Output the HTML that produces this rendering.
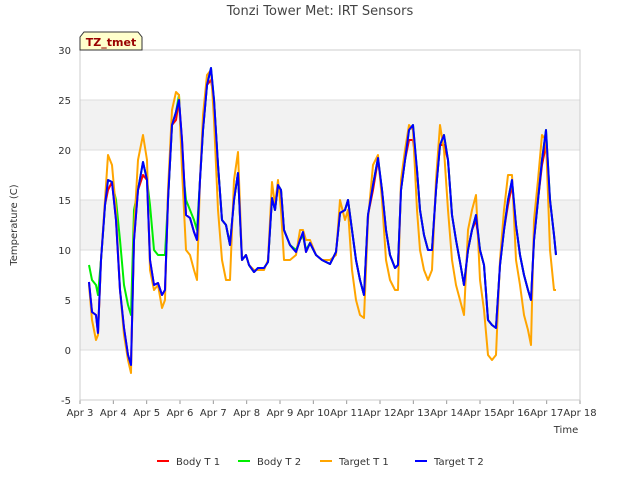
<!DOCTYPE html>
<html><head><meta charset="utf-8"><style>
body{margin:0;background:#fff;font-family:"Liberation Sans","DejaVu Sans",sans-serif}
text{font-family:"DejaVu Sans","Liberation Sans",sans-serif}
</style></head><body>
<svg id="c" width="640" height="480" viewBox="0 0 640 480" xmlns="http://www.w3.org/2000/svg">
<text x="320" y="15" text-anchor="middle" font-size="13" fill="#444">Tonzi Tower Met: IRT Sensors</text>
<g id="grid"></g><g id="axes"></g><g id="series"></g>
<g>
<path d="M80,50 L80,37 L84,32 L138,32 L142,37 L142,50 Z" fill="#ffffcc" stroke="#333" stroke-width="1"/>
<text x="111" y="46" text-anchor="middle" font-size="11" font-weight="bold" fill="#990000">TZ_tmet</text></g>
<text transform="translate(17,225) rotate(-90)" text-anchor="middle" font-size="10" fill="#333">Temperature (C)</text>
<text x="566" y="433" text-anchor="middle" font-size="10" fill="#333">Time</text>
<g id="legend"></g>
</svg>
<script>
const times=[0.27,0.36,0.48,0.54,0.63,0.75,0.84,0.96,1.08,1.2,1.32,1.44,1.53,1.62,1.74,1.89,2.01,2.1,2.22,2.34,2.46,2.55,2.64,2.76,2.88,2.97,3.06,3.18,3.3,3.42,3.51,3.6,3.69,3.81,3.93,4.02,4.14,4.26,4.38,4.5,4.62,4.74,4.86,4.98,5.07,5.22,5.34,5.52,5.64,5.76,5.85,5.94,6.03,6.12,6.3,6.48,6.6,6.69,6.78,6.9,7.08,7.26,7.5,7.68,7.8,7.95,8.04,8.16,8.28,8.4,8.52,8.64,8.79,8.94,9.06,9.18,9.3,9.45,9.54,9.63,9.75,9.87,9.99,10.11,10.2,10.32,10.44,10.56,10.68,10.8,10.92,11.04,11.16,11.28,11.4,11.52,11.64,11.76,11.88,12.0,12.12,12.24,12.36,12.48,12.6,12.72,12.84,12.96,13.08,13.2,13.32,13.44,13.53,13.62,13.74,13.86,13.98,14.1,14.22,14.28];
const targetT2=[6.8,3.8,3.5,1.7,9,14.5,17,16.8,13,6,2.2,-0.5,-1.5,11,16,18.8,17,9,6.5,6.7,5.5,6,15,22.5,23.8,25,21,13.5,13.2,11.8,11,17,22,26.5,28.2,25,18.5,13,12.5,10.5,15,17.7,9,9.5,8.5,7.8,8.2,8.2,8.8,15.2,14,16.5,16,12,10.5,9.8,11,11.8,9.8,10.7,9.5,9,8.6,9.8,13.7,14,15,12,9,7,5.5,13.5,16.5,19.2,16,12,9.5,8.2,8.5,16,19,22,22.5,18,14,11.5,10,10,16,20.5,21.5,19,13.5,11,8.8,6.5,10,12,13.5,10,8.5,3,2.5,2.2,8.5,12,15,17,12.5,9.5,7.5,6,5,11,15,19,22,15,11.5,9.5];
const targetT1=[6.5,3,1,1.5,9,15,19.5,18.5,14,6,1.5,-1,-2.3,12,19,21.5,19,8,6,6.5,4.2,5,16,24,25.8,25.5,18,10,9.5,8,7,17,23.5,27.5,28,23,14,9,7,7,17,19.8,9,9.5,8.5,8,8,8,9,16.8,14.5,17,14,9,9,9.5,12,12,11,11,9.5,9,9,9.5,15,13,14,8,5,3.5,3.2,13,18.5,19.5,15,9,7,6,6,17,20,22.5,22,14,10,8,7,8,17,22.5,20,14,9,6.5,5,3.5,12,14,15.5,7,4,-0.5,-1,-0.5,9,14,17.5,17.5,9,6.5,3.5,2,0.5,13,17,21.5,21,10,6,6];
const bodyT2=[8.5,7,6.5,5.5,9,14.5,17,16.8,15,11,6.5,4.5,3.5,14,16,18.8,17,14.5,10,9.5,9.5,9.5,15,22.5,23.8,25.5,19,15,14,13,12,17,22,26.5,28.2,25,18.5,13,12.5,10.5,15,17.7,9,9.5,8.5,7.8,8.2,8.2,8.8,15.2,14,16.5,16,12,10.5,10,11,11.5,10,10.7,9.5,9,8.6,9.8,13.7,14,15,12,9,7,5.5,13.5,16.5,19.2,16,12,9.5,8.2,8.5,16,19,22,22.5,18,14,11.5,10,10,16,20.5,21.5,19,13.5,11,8.8,6.5,10,12,13.5,10,8.5,3,2.5,2.2,8.5,12,15,17,12.5,9.5,7.5,6,5,11,15,19,22,15,11.5,9.5];
const bodyT1=[6.8,3.8,3.5,1.7,9,14.5,16,16.8,13,6,2.2,-0.5,-1.5,11,16,17.5,17,9,6.5,6.7,5.5,6,15,22.5,23,25,21,13.5,13.2,11.8,11,17,22,26.5,27,25,18.5,13,12.5,10.5,15,17.7,9,9.5,8.5,7.8,8.2,8.2,8.8,15.2,14,16.5,16,12,10.5,9.8,11,11.5,9.8,10.7,9.5,9,8.6,9.8,13.7,14,15,12,9,7,5.5,13.5,16,19,16,12,9.5,8.2,8.5,16,19,21,21,18,14,11.5,10,10,16,20.5,20.5,19,13.5,11,8.8,6.5,10,12,13,10,8.5,3,2.5,2.2,8.5,12,14.5,16.5,12.5,9.5,7.5,6,5,11,15,18.5,20.5,15,11.5,9.5];
const yTicks=[-5,0,5,10,15,20,25,30];
const xTickLabels=["Apr 3","Apr 4","Apr 5","Apr 6","Apr 7","Apr 8","Apr 9","Apr 10","Apr 11","Apr 12","Apr 13","Apr 14","Apr 15","Apr 16","Apr 17","Apr 18"];
const seriesNames=["Body T 1","Body T 2","Target T 1","Target T 2"];
const seriesColors=["#ff0000","#00ee00","#ffa500","#0000ff"];

const NS="http://www.w3.org/2000/svg";
const L=80,R=580,T=50,B=400;
const xs=d=>L+(R-L)*d/15;
const ys=v=>B-(B-T)*(v+5)/35;
function mk(tag,attrs,parent){const e=document.createElementNS(NS,tag);for(const k in attrs)e.setAttribute(k,attrs[k]);parent.appendChild(e);return e;}
const grid=document.getElementById('grid'),axes=document.getElementById('axes'),ser=document.getElementById('series'),leg=document.getElementById('legend');
for(let i=0;i<yTicks.length-1;i++){
  const b=mk('rect',{x:L,y:ys(yTicks[i+1]),width:R-L,height:ys(yTicks[i])-ys(yTicks[i+1]),fill:(i%2==1)?'#f2f2f2':'#ffffff'},grid);
  
  
}
yTicks.forEach(v=>{
  const l=mk('line',{x1:L,x2:R,y1:ys(v),y2:ys(v),stroke:'#dddddd','stroke-width':1},grid);
  
  
  const t=mk('text',{x:L-9,y:ys(v)+4,'text-anchor':'end','font-size':10,fill:'#333'},axes);
  t.textContent=v;
  
  
});
xTickLabels.forEach((s,i)=>{
  const x=xs(i);
  const l=mk('line',{x1:x,x2:x,y1:B,y2:B+4,stroke:'#999'},axes);
  
  
  const t=mk('text',{x:x,y:B+16,'text-anchor':'middle','font-size':10,fill:'#333'},axes);
  t.textContent=s;
  
  
});
const fr=mk('rect',{x:L,y:T,width:R-L,height:B-T,fill:'none',stroke:'#cccccc'},axes);


const data=[bodyT1,bodyT2,targetT1,targetT2];
data.forEach((arr,k)=>{
  const d=arr.map((v,i)=>(i?'L':'M')+xs(times[i]).toFixed(1)+','+ys(v).toFixed(1)).join(' ');
  const p=mk('path',{d:d,fill:'none',stroke:seriesColors[k],'stroke-width':2,'stroke-linejoin':'round'},ser);
  
  
});
const lx=[157,238,320,415];
seriesNames.forEach((n,k)=>{
  const g=mk('g',{},leg);
  
  
  mk('line',{x1:lx[k],x2:lx[k]+12,y1:461,y2:461,stroke:seriesColors[k],'stroke-width':2},g);
  const t=mk('text',{x:lx[k]+19,y:465,'font-size':10,fill:'#333'},g);
  t.textContent=n;
});
</script>
</body></html>
